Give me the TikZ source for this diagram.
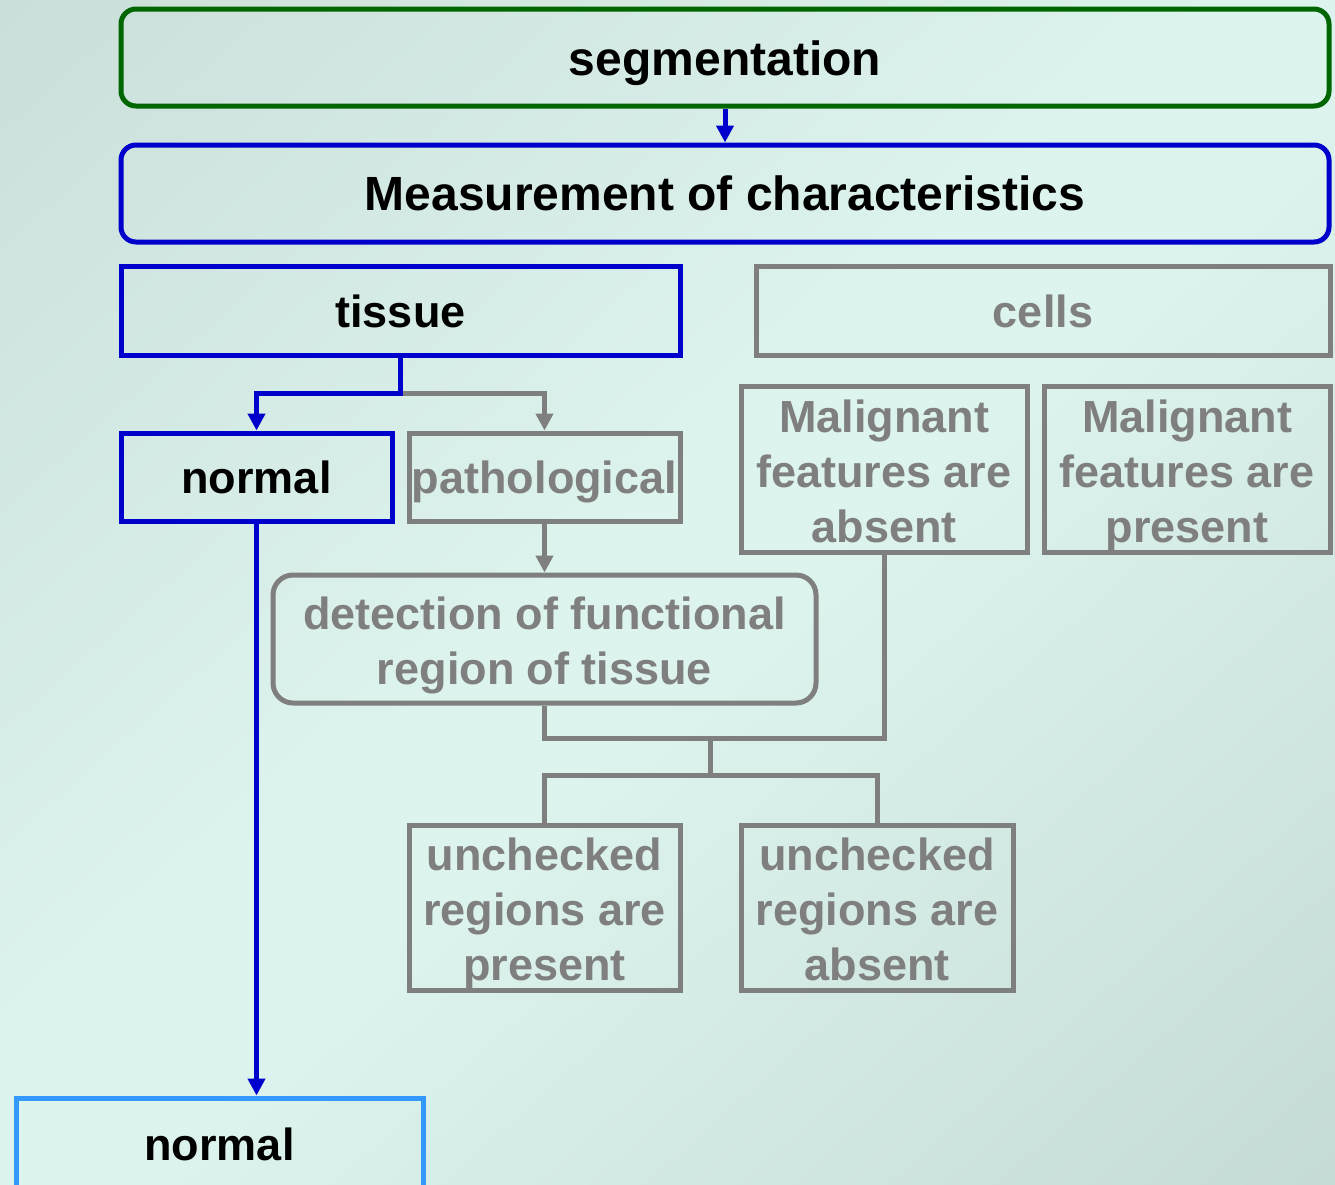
\documentclass[tikz,border=0pt]{standalone}
\usepackage{fontspec}
\setmainfont{Liberation Sans}
\usetikzlibrary{arrows.meta,calc}
\definecolor{gblue}{HTML}{0000CC}
\definecolor{ggreen}{HTML}{006600}
\definecolor{ggray}{HTML}{7F7F7F}
\definecolor{lblue}{HTML}{3399FF}
\definecolor{bgtl}{HTML}{B6C9C4}
\definecolor{bgbr}{HTML}{ABC0BB}
\definecolor{bglight}{HTML}{DDF3EE}
\pgfdeclareverticalshading{bgsh}{100bp}{color(0bp)=(bgbr); color(48bp)=(bglight); color(52bp)=(bglight); color(100bp)=(bgtl)}
\begin{document}
\begin{tikzpicture}[x=1pt,y=-1pt,
  box/.style={draw, line width=5pt, inner sep=0pt, align=center,
    text height=43pt, text depth=10pt,
    font=\fontsize{45}{55}\selectfont\bfseries},
  bigbox/.style={box, rounded corners=15pt, font=\fontsize{48}{56}\selectfont\bfseries},
  graybox/.style={box, draw=ggray, text=ggray},
  bluebox/.style={box, draw=gblue, text=black},
  conn/.style={line width=5pt},
  arr/.style={conn, -{Triangle[length=17pt,width=17pt]}}]
\useasboundingbox (0,0) rectangle (1335,1184);
\clip (0,0) rectangle (1335,1184);
\begin{scope}[transform canvas={shift={(667.5,592)}, rotate=41.6}]
  \shade[shading=bgsh] (-1000,-890) rectangle (1000,890);
\end{scope}

\node[bigbox, draw=ggreen, text height=45pt, minimum width=1208pt, minimum height=97pt] (seg) at (725,57.5) {segmentation};
\node[bigbox, draw=gblue, minimum width=1208pt, minimum height=97pt] (meas) at (725,193.5) {Measurement of characteristics};
\node[bluebox, minimum width=559pt, minimum height=89pt] (tissue) at (400.5,310.5) {tissue};
\node[graybox, minimum width=574pt, minimum height=89pt] (cells) at (1043,310.5) {cells};
\node[bluebox, minimum width=271pt, minimum height=88pt, text height=42pt] (normal) at (256.5,477) {normal};
\node[graybox, minimum width=271pt, minimum height=88pt, text height=42pt] (patho) at (544.5,477) {pathological};
\node[graybox, text height=156pt, minimum width=286pt, minimum height=164pt] (malA) at (884,469) {Malignant\\features are\\absent};
\node[graybox, text height=156pt, minimum width=286pt, minimum height=164pt] (malP) at (1187,469) {Malignant\\features are\\present};
\node[graybox, text height=100pt, rounded corners=20pt, minimum width=543pt, minimum height=128pt] (detect) at (544.5,639) {detection of functional\\region of tissue};
\node[graybox, text height=155pt, minimum width=271pt, minimum height=165pt] (uncP) at (544.5,907.5) {unchecked\\regions are\\present};
\node[graybox, text height=155pt, minimum width=272pt, minimum height=165pt] (uncA) at (877,907.5) {unchecked\\regions are\\absent};
\node[box, draw=lblue, text=black, text height=42pt, minimum width=407pt, minimum height=92pt] (normal2) at (219.5,1144) {normal};

\coordinate (tb) at (400.5,393);
\coordinate (j) at (710,738);
\coordinate (k) at (710,775);

\draw[arr, gblue] (seg) -- (meas);
\draw[arr, ggray] (tb) -| (patho.north);
\draw[arr, gblue] (tissue.south) -- (tb) -| (normal.north);
\draw[arr, ggray] (patho) -- (detect);
\draw[conn, ggray] (detect.south) -- (detect.south |- j) -- (malA.south |- j) -- (malA.south);
\draw[conn, ggray] (j) -- (k);
\draw[conn, ggray] (uncP.north) |- (k) -| (uncA.north);
\draw[arr, gblue] (normal.south) -- (normal.south |- normal2.north);
\end{tikzpicture}
\end{document}
